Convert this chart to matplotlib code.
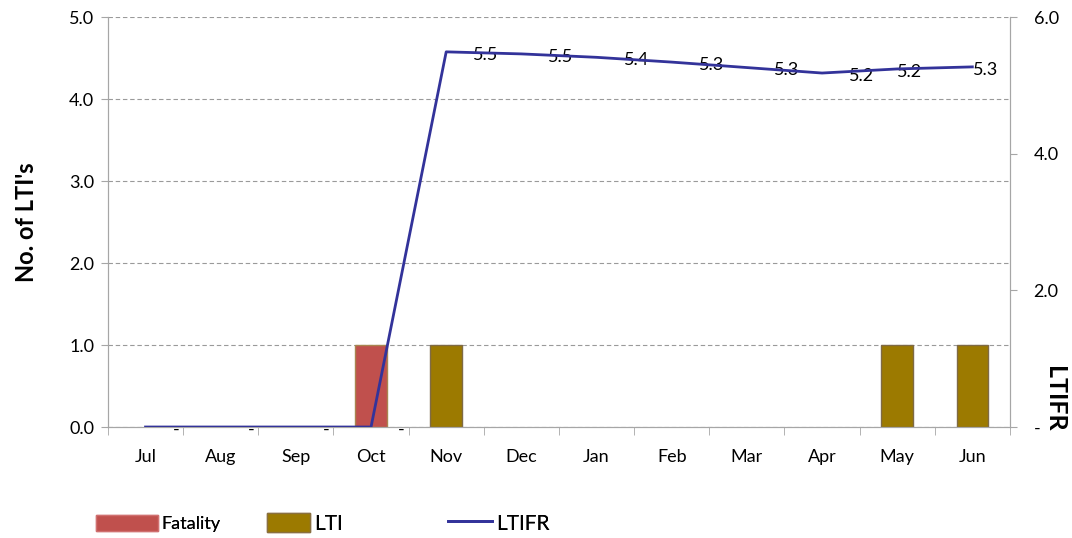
import matplotlib.pyplot as plt
import numpy as np
from matplotlib.patches import Patch
from matplotlib.lines import Line2D

plt.rcParams['font.family'] = ['Lato', 'DejaVu Sans']

months = ['Jul', 'Aug', 'Sep', 'Oct', 'Nov', 'Dec', 'Jan', 'Feb', 'Mar', 'Apr', 'May', 'Jun']
fatality = [0, 0, 0, 1, 0, 0, 0, 0, 0, 0, 0, 0]
lti = [0, 0, 0, 0, 1, 0, 0, 0, 0, 0, 1, 1]
ltifr = [0, 0, 0, 0, 5.49, 5.46, 5.41, 5.34, 5.26, 5.18, 5.24, 5.27]
ltifr_labels = ['-', '-', '-', '-', '5.5', '5.5', '5.4', '5.3', '5.3', '5.2', '5.2', '5.3']

fatality_color = '#C0504D'
lti_color = '#9C7A00'
line_color = '#33339A'
axis_gray = '#A6A6A6'

fig = plt.figure(figsize=(10.72, 5.38), dpi=100)
ax = fig.add_axes([0.1007, 0.2063, 0.8414, 0.7621])
ax2 = ax.twinx()

x = np.arange(len(months))
# no outline on empty bars, otherwise a stray edge shows on the axis
fat_edges = ['#A88550' if v else 'none' for v in fatality]
lti_edges = ['#7F6A45' if v else 'none' for v in lti]
ax.bar(x, fatality, width=0.42, color=fatality_color, edgecolor=fat_edges, linewidth=1, zorder=3)
ax.bar(x, lti, width=0.42, bottom=fatality, color=lti_color, edgecolor=lti_edges, linewidth=1, zorder=3)

ax.set_xlim(-0.5, len(months) - 0.5)
ax.set_ylim(0, 5)
ax.set_yticks(np.arange(0, 5.1, 1))
ax.set_yticklabels([f'{v:.1f}' for v in np.arange(0, 5.1, 1)])
ax.set_xticks(x)
ax.set_xticklabels(months)
ax.set_xticks(np.arange(-0.5, len(months)), minor=True)
ax.tick_params(axis='x', which='major', length=0, pad=16, labelsize=13)
ax.tick_params(axis='x', which='minor', length=6, color=axis_gray, direction='out')
ax.tick_params(axis='y', length=5, color=axis_gray, labelsize=13, pad=5)
ax.grid(axis='y', linestyle=(0, (4, 2.5)), color='#9A9A9A', linewidth=0.8, zorder=0)
ax.set_axisbelow(True)
ax.set_ylabel("No. of LTI's", fontsize=17, fontweight='bold', labelpad=22)

for name, sp in ax.spines.items():
    sp.set_color(axis_gray)
ax.spines['top'].set_visible(False)

ax2.plot(x, ltifr, color=line_color, linewidth=2, zorder=4)
ax2.set_ylim(0, 6)
ax2.set_yticks([0, 2, 4, 6])
ax2.set_yticklabels(['-', '2.0', '4.0', '6.0'])
ax2.tick_params(axis='y', length=5, color=axis_gray, labelsize=13, pad=12)
for name, sp in ax2.spines.items():
    sp.set_color(axis_gray)
ax2.spines['top'].set_visible(False)

# label offsets in points (the last two labels sit right on their points)
label_dx = [19.5] * 10 + [0, 0.5]
for xi, yi, lab, dx in zip(x, ltifr, ltifr_labels, label_dx):
    ax2.annotate(lab, (xi, yi), xytext=(dx, -2), textcoords='offset points',
                 ha='left', va='center', fontsize=13)

fig.text(0.984, 0.258, 'LTIFR', rotation=-90, fontsize=18, fontweight='bold',
         ha='center', va='center')

# legend entries placed one by one to mimic the original spacing
leg_items = [
    (Patch(facecolor=fatality_color, edgecolor='#D07070'), 'Fatality', 0.083, 3.4, 13),
    (Patch(facecolor=lti_color, edgecolor='#8A7040'), 'LTI', 0.241, 2.1, 15),
    (Line2D([0], [0], color=line_color, linewidth=2), 'LTIFR', 0.410, 2.1, 15),
]
for handle, label, xpos, hlen, fs in leg_items:
    leg = fig.legend([handle], [label], loc='center left', bbox_to_anchor=(xpos, 0.027),
                     frameon=False, handlelength=hlen, handleheight=1.0,
                     handletextpad=0.2, fontsize=fs, borderaxespad=0)
    fig.add_artist(leg)

fig.savefig('out.png', dpi=100)
